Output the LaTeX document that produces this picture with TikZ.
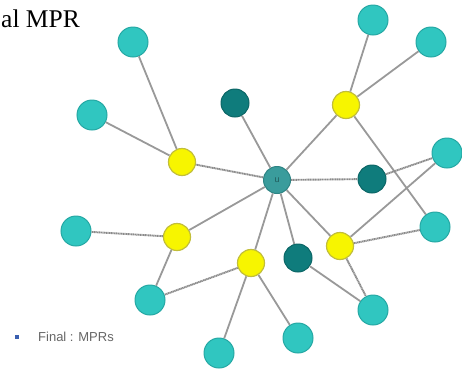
\documentclass[tikz,border=0pt]{standalone}
\usepackage{fontspec}
\setmainfont{Liberation Serif}
\newfontfamily\legendfont{Liberation Sans}
\definecolor{cyanfill}{HTML}{30C6C0}
\definecolor{cyanedge}{HTML}{25A8A4}
\definecolor{yelfill}{HTML}{F7F500}
\definecolor{yeledge}{HTML}{C2BE3A}
\definecolor{darkfill}{HTML}{0F7C7C}
\definecolor{darkedge}{HTML}{0B6666}
\definecolor{ufill}{HTML}{3A9C9C}
\definecolor{uedge}{HTML}{2E8484}
\definecolor{edgegray}{HTML}{999999}
\definecolor{legblue}{HTML}{3A5FB0}
\begin{document}
\begin{tikzpicture}[x=1pt,y=-1pt,
  cnode/.style={circle,fill=cyanfill,draw=cyanedge,line width=1pt,minimum size=30pt,inner sep=0pt},
  ynode/.style={circle,fill=yelfill,draw=yeledge,line width=1.2pt,minimum size=27pt,inner sep=0pt},
  dnode/.style={circle,fill=darkfill,draw=darkedge,line width=1pt,minimum size=28pt,inner sep=0pt},
  unode/.style={circle,fill=ufill,draw=uedge,line width=1pt,minimum size=27pt,inner sep=0pt,font=\legendfont\fontsize{9}{9}\selectfont,text=uedge!70!black},
  link/.style={draw=edgegray,line width=1.8pt},
  hatch/.style={draw=edgegray!90!black,line width=1.9pt,dash pattern=on 1.2pt off 0.5pt}]
\useasboundingbox (0,0) rectangle (462,373);
% nodes
\node[unode] (u) at (277,180) {u};
\node[cnode] (c1) at (133,42) {};
\node[cnode] (c2) at (92,115) {};
\node[cnode] (c3) at (373,20) {};
\node[cnode] (c4) at (431,42) {};
\node[cnode] (c5) at (447,153) {};
\node[cnode] (c6) at (435,227) {};
\node[cnode] (c7) at (76,231) {};
\node[cnode] (c8) at (150,300) {};
\node[cnode] (c9) at (373,310) {};
\node[cnode] (c10) at (298,338) {};
\node[cnode] (c11) at (219,353) {};
\node[ynode] (y1) at (182,162) {};
\node[ynode] (y2) at (346,105) {};
\node[ynode] (y3) at (177,237) {};
\node[ynode] (y4) at (251,263) {};
\node[ynode] (y5) at (340,246) {};
\node[dnode] (d1) at (235,103) {};
\node[dnode] (d2) at (372,179) {};
\node[dnode] (d3) at (298,258) {};
% edges
\path[link] (u) -- (d1);
\path[hatch] (u) -- (y1);
\path[link] (u) -- (y2);
\path[hatch] (u) -- (d2);
\path[link] (u) -- (y3);
\path[link] (u) -- (y4);
\path[link] (u) -- (d3);
\path[link] (u) -- (y5);
\path[link] (y1) -- (c1);
\path[link] (y1) -- (c2);
\path[link] (y2) -- (c3);
\path[link] (y2) -- (c4);
\path[link] (y2) -- (c6);
\path[hatch] (d2) -- (c5);
\path[link] (y5) -- (c5);
\path[hatch] (y5) -- (c6);
\path[hatch] (y5) -- (c9);
\path[link] (d3) -- (c9);
\path[hatch] (y3) -- (c7);
\path[link] (y3) -- (c8);
\path[hatch] (y4) -- (c8);
\path[link] (y4) -- (c11);
\path[link] (y4) -- (c10);
% title and legend
\node[anchor=base west,inner sep=0pt,font=\fontsize{25.5}{25.5}\selectfont] (title) at (1,27) {al MPR};
\node[fill=legblue,minimum size=4pt,inner sep=0pt] (sq) at (17,337) {};
\node[anchor=base west,inner sep=0pt,text=black!60,font=\legendfont\fontsize{13}{13}\selectfont] (leg) at (38,341) {Final : MPRs};
\end{tikzpicture}
\end{document}
